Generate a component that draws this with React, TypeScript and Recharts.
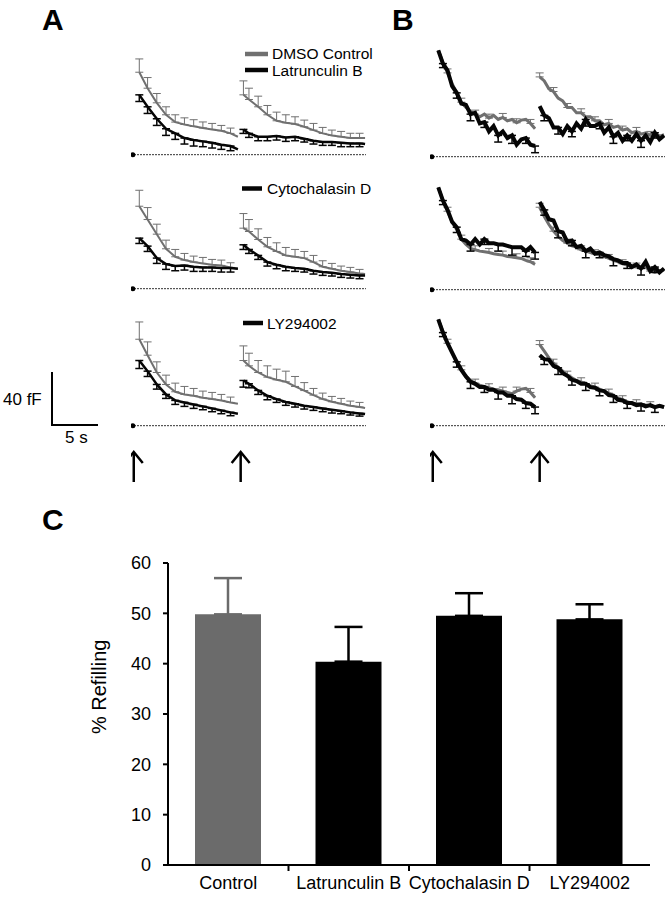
import React from 'react';
import {
  LineChart,
  Line,
  XAxis,
  YAxis,
  ErrorBar,
  ReferenceLine,
  ReferenceDot,
  BarChart,
  Bar,
} from 'recharts';

const FONT = '"Liberation Sans", Arial, Helvetica, sans-serif';
const GRAY = '#707070';
const INK = '#050505';

// ---------- panels A and B: capacitance traces (fF) ----------

// the two stimulus trains (s)
const STIM_TIMES = [0, 11.6];
const BASELINE_MARK_T = -0.1;

// panel A sample times; index 12 is the gap between the two trains
const TIME_A = [0.6, 1.5, 2.5, 3.5, 4.5, 5.5, 6.5, 7.5, 8.5, 9.5, 10.5, 11.3, 11.6, 11.9, 12.5, 13.5, 14.5, 15.5, 16.5, 17.5, 18.5, 19.5, 20.5, 21.5, 22.5, 23.5, 24.5, 25.1];

const A1_GRAY = [62, 50, 39, 30, 24.5, 22.7, 21.3, 20.1, 19, 18, 16, 13.5, null, 45, 41.5, 36, 30, 25.5, 24, 23, 21, 18.5, 16, 14.5, 13.5, 12.6, 12.6, 12.5];
const A1_GRAY_ERR = [10, 8, 7, 6, 5.5, 5, 5, 4.5, 4.5, 4, 4, null, null, 10.5, 8.5, 8, 7, 6.5, 6, 5.5, 5, 5, 4.5, 4, 4, 3.5, 3.5, null];
const A1_BLACK = [45, 36, 27, 19.5, 16, 12.5, 11, 10, 9, 7.5, 6.5, 4, null, 19, 16, 13.5, 13.5, 14, 13, 13.5, 12, 10.5, 9.5, 9.5, 9, 8.5, 8.5, 8];
const A1_BLACK_ERR = [5, 5, 5, 5, 4.5, 4.5, 4.5, 4, 4, 3.5, 3.5, null, null, 3, 3, 3, 3, 3, 3, 3, 2.5, 2.5, 2.5, 2.5, 3, 2.5, 2.5, null];

const A2_GRAY = [62, 52, 41, 30, 24, 21.5, 20, 19, 18, 17.5, 16, 15, null, 45.5, 43, 37, 31.5, 28, 25, 24, 23, 20, 16.5, 15, 13.5, 12.5, 11.5, 11];
const A2_GRAY_ERR = [12, 9, 7.5, 6.5, 5.5, 5, 4.5, 4.5, 4, 4, 3.5, null, null, 11, 9, 8, 7, 6.5, 6, 5.5, 5, 5, 4.5, 4, 3.5, 3.5, 3, null];
const A2_BLACK = [38, 32, 23, 18.5, 17, 17.5, 16.5, 16, 16, 15.5, 15.5, 15, null, 33, 29.5, 25, 20, 18, 16.5, 15.5, 15, 13.5, 12.5, 12, 11, 10.5, 10, 10];
const A2_BLACK_ERR = [4, 4, 4, 4, 3.5, 3.5, 3.5, 3, 3, 3, 3, null, null, 3.5, 3, 3, 3, 3, 3, 2.5, 2.5, 2.5, 2.5, 2.5, 2.5, 2.5, 2.5, null];

const A3_GRAY = [65, 53, 40, 31, 25.5, 23.5, 22.5, 21, 20, 19, 17.5, 16.5, null, 49, 45, 40, 36.5, 34.5, 33, 29.5, 26.4, 23, 20, 18, 16.5, 15, 14, 13.3];
const A3_GRAY_ERR = [13, 10, 8, 7, 6.5, 6, 5.5, 5, 5, 4.5, 4, null, null, 11, 9.5, 9, 8.5, 8, 8, 7.5, 6, 5, 4.5, 4, 4, 3.5, 3.5, null];
const A3_BLACK = [49, 41, 31, 23.5, 19, 17.5, 16, 14.5, 13, 11.5, 10, 9, null, 34, 31.5, 26.5, 22.5, 20, 17.8, 16.5, 15, 14, 13, 12, 11, 10, 9.2, 8.7];
const A3_BLACK_ERR = [6, 4, 3.5, 3, 3, 3, 3, 2.5, 2.5, 2.5, 2.5, null, null, 5, 3, 3, 3, 2.5, 2.5, 2.5, 2.5, 2.5, 2.5, 2.5, 2, 2, 2, null];

// panel B sample times; index 22 is the gap
const TIME_B = [0.6, 1.1, 1.6, 2.1, 2.6, 3.1, 3.6, 4.1, 4.6, 5.1, 5.6, 6.1, 6.6, 7.1, 7.6, 8.1, 8.6, 9.1, 9.6, 10.1, 10.6, 11.1, 11.35, 11.6, 12.1, 12.6, 13.1, 13.6, 14.1, 14.6, 15.1, 15.6, 16.1, 16.6, 17.1, 17.6, 18.1, 18.6, 19.1, 19.6, 20.1, 20.6, 21.1, 21.6, 22.1, 22.6, 23.1, 23.6, 24.1, 24.6, 25.1];

const B_GRAY_ERR = [null, null, 3, null, null, 3, null, null, 3, null, null, 3, null, null, 3, null, null, 3, null, null, 3, null, null, 3, null, null, 3, null, null, 3, null, null, 3, null, null, 3, null, null, 3, null, null, 3, null, null, 3, null, null, 3, null, null, null];
const B_BLACK_ERR = [null, 3, null, null, 4, null, null, 5, null, null, 4, null, null, 5, null, null, 6, null, null, 4, null, 5, null, null, 4, null, null, 5, null, null, 4, null, null, 5, null, null, 4, null, null, 5, null, null, 4, null, null, 5, null, null, 4, null, null];

const B1_GRAY = [80, 71, 63, 55, 48, 41, 37, 34, 32, 30, 32, 29, 31, 28, 29.5, 27, 28, 25.5, 27.5, 28, 25, 21, null, 60, 57, 51, 49, 44, 42, 37, 37, 33, 33, 30, 30, 27, 27, 24, 25, 22, 23, 20, 21, 18, 19, 17, 18, 16, 17.5, 15.5, 16.5];
const B1_BLACK = [80, 70, 65, 53, 48, 40, 39, 32, 33, 25, 26, 19, 23, 16, 19, 14, 16, 9, 13, 14, 9, 8, null, 38, 31, 29, 22, 22, 17, 23, 19, 25, 21, 28, 23, 23, 25, 18, 22, 15, 18, 12, 16, 12, 17, 12, 16, 11, 18, 13, 16];

const B2_GRAY = [77, 67, 59, 51, 45, 38, 34, 31, 30, 29, 28.5, 28, 27, 26.5, 26, 25, 24.5, 24, 23.5, 22, 21, 19, null, 62, 55, 49, 44, 40, 37, 35, 33, 32, 30, 29, 28, 27, 26, 25, 23.5, 22, 21, 19.5, 18.5, 17.5, 17, 16, 17, 14, 13, 14, 15];
const B2_BLACK = [77, 67, 60, 51, 47, 38, 37, 34, 38, 34, 38, 35, 35, 34, 34, 33, 32, 32, 32, 29, 32, 28, null, 66, 60, 53, 52, 44, 43, 36, 37, 32, 33, 29, 31, 27, 28, 26, 25, 23, 22, 20, 20, 17, 19, 16, 21, 14, 17, 13, 16];

const B3_GRAY = [80, 71, 62, 55, 48, 42, 37.5, 34, 32, 30.5, 29.5, 28.5, 27.5, 27, 26, 25, 24, 26, 27.5, 28, 25, 21, null, 61, 56, 51, 47, 44, 41, 38, 36, 34, 33, 31.5, 30, 29, 27.5, 26, 24.5, 22.5, 21, 19.5, 18, 17, 16.5, 16, 15.5, 15, 14, 15, 14];
const B3_BLACK = [80, 70, 62, 55, 48, 42, 37, 33, 31.5, 29, 29, 27, 27, 25, 25, 22.5, 22.5, 20, 19.5, 17, 16.5, 14, null, 53, 50, 49.5, 45, 43.5, 39.5, 37.5, 34.5, 33.5, 31.5, 31.5, 29, 28.5, 26.5, 26, 23, 22.5, 19.5, 19, 17, 17, 15.5, 16, 14.5, 15.5, 14, 15, 14];

// ---------- panel C: % refilling ----------
const CATEGORIES = ['Control', 'Latrunculin B', 'Cytochalasin D', 'LY294002'];
const REFILL_MEAN = [49.8, 40.4, 49.5, 48.8];
const REFILL_SEM = [7.2, 6.9, 4.5, 3.0];
const REFILL_TICKS = [0, 10, 20, 30, 40, 50, 60];

// layout
const T_DOMAIN: [number, number] = [-0.3, 25.2];
const Y_DOMAIN: [number, number] = [-4, 90];
const TRACE_W = 235;
const TRACE_H = 125;
const ARROW_H = 60;

const BAR_LEFT = 60;
const BAR_W = 612;
const BAR_MARGIN = { top: 13, right: 22, bottom: 0, left: 0 };
const BAR_YAXIS_W = 108;

function buildRows(time: number[], gray: any[], grayErr: any[], black: any[], blackErr: any[]) {
  return time.map((t, i) => ({
    t,
    gray: gray[i],
    black: black[i],
    grayErr: grayErr[i] == null ? null : [0, grayErr[i]],
    blackErr: blackErr[i] == null ? null : [blackErr[i], 0],
  }));
}

const refillRows = CATEGORIES.map((name, i) => ({
  name,
  ctrl: i === 0 ? REFILL_MEAN[i] : null,
  drug: i === 0 ? null : REFILL_MEAN[i],
  ctrlErr: i === 0 ? [0, REFILL_SEM[i]] : null,
  drugErr: i === 0 ? null : [0, REFILL_SEM[i]],
}));

function ArrowTick(props: any) {
  const { x, y } = props;
  const tip = y + 21;
  const tail = y + 51;
  return (
    <g stroke="#000" strokeWidth={2.5} fill="none">
      <line x1={x} y1={tip} x2={x} y2={tail} />
      <polyline points={`${x - 9},${tip + 11} ${x},${tip} ${x + 9},${tip + 11}`} />
    </g>
  );
}

interface TraceProps {
  left: number;
  top: number;
  rows: any[];
  arrows?: boolean;
  heavy?: boolean;
}

function TracePanel({ left, top, rows, arrows = false, heavy = false }: TraceProps) {
  return (
    <div style={{ position: 'absolute', left, top }}>
      <LineChart
        width={TRACE_W}
        height={arrows ? TRACE_H + ARROW_H : TRACE_H}
        data={rows}
        margin={{ top: 0, right: 0, bottom: 0, left: 0 }}
      >
        <XAxis
          type="number"
          dataKey="t"
          domain={T_DOMAIN}
          allowDataOverflow
          hide={!arrows}
          ticks={STIM_TIMES}
          interval={0}
          axisLine={false}
          tickLine={false}
          tickSize={0}
          tickMargin={0}
          height={ARROW_H}
          tick={<ArrowTick />}
        />
        <YAxis type="number" domain={Y_DOMAIN} allowDataOverflow hide />
        <ReferenceLine y={0} stroke="#333" strokeWidth={1} strokeDasharray="2 1" />
        <ReferenceDot x={BASELINE_MARK_T} y={0} r={2.5} fill="#000" stroke="none" />
        <Line
          dataKey="gray"
          type="linear"
          stroke={GRAY}
          strokeWidth={heavy ? 3 : 2}
          dot={false}
          activeDot={false}
          connectNulls={false}
          isAnimationActive={false}
        >
          <ErrorBar dataKey="grayErr" direction="y" width={4} stroke={GRAY} strokeWidth={1} />
        </Line>
        <Line
          dataKey="black"
          type="linear"
          stroke={INK}
          strokeWidth={heavy ? 4 : 2.5}
          dot={false}
          activeDot={false}
          connectNulls={false}
          isAnimationActive={false}
        >
          <ErrorBar dataKey="blackErr" direction="y" width={4} stroke={INK} strokeWidth={1.5} />
        </Line>
      </LineChart>
    </div>
  );
}

function CategoryTick(props: any) {
  const { x, y, payload, index } = props;
  const plotW = BAR_W - BAR_YAXIS_W - BAR_MARGIN.right;
  const half = plotW / CATEGORIES.length / 2;
  return (
    <g>
      <text x={x} y={y + 24} textAnchor="middle" fontSize={18} fontFamily={FONT} fill="#000">
        {payload.value}
      </text>
      {index < CATEGORIES.length - 1 && (
        <line x1={x + half} y1={y} x2={x + half} y2={y + 6} stroke="#000" strokeWidth={2} />
      )}
    </g>
  );
}

function RefillLabel(props: any) {
  const vb = props.viewBox || { x: 0, y: 0, width: 0, height: 0 };
  const cx = vb.x + 39;
  const cy = vb.y + vb.height * 0.41;
  return (
    <text
      x={cx}
      y={cy}
      transform={`rotate(-90 ${cx} ${cy})`}
      textAnchor="middle"
      dominantBaseline="central"
      fontSize={20}
      fontFamily={FONT}
      fill="#000"
    >
      % Refilling
    </text>
  );
}

export default function App() {
  const a1 = buildRows(TIME_A, A1_GRAY, A1_GRAY_ERR, A1_BLACK, A1_BLACK_ERR);
  const a2 = buildRows(TIME_A, A2_GRAY, A2_GRAY_ERR, A2_BLACK, A2_BLACK_ERR);
  const a3 = buildRows(TIME_A, A3_GRAY, A3_GRAY_ERR, A3_BLACK, A3_BLACK_ERR);
  const b1 = buildRows(TIME_B, B1_GRAY, B_GRAY_ERR, B1_BLACK, B_BLACK_ERR);
  const b2 = buildRows(TIME_B, B2_GRAY, B_GRAY_ERR, B2_BLACK, B_BLACK_ERR);
  const b3 = buildRows(TIME_B, B3_GRAY, B_GRAY_ERR, B3_BLACK, B_BLACK_ERR);

  return (
    <div
      style={{
        position: 'absolute',
        left: 0,
        top: 0,
        width: 672,
        height: 899,
        background: '#fff',
        fontFamily: FONT,
        overflow: 'hidden',
      }}
    >
      {/* panel letters, legends and scale bar */}
      <svg width={672} height={899} style={{ position: 'absolute', left: 0, top: 0 }}>
        <g fontFamily={FONT} fontWeight="bold" fontSize={30} fill="#000">
          <text x={42} y={30}>A</text>
          <text x={392} y={30}>B</text>
          <text x={42} y={530}>C</text>
        </g>
        <g fontFamily={FONT} fontSize={15.5} fill="#000">
          <line x1={245} x2={268} y1={54} y2={54} stroke={GRAY} strokeWidth={4.5} />
          <text x={272} y={59}>DMSO Control</text>
          <line x1={245} x2={268} y1={70} y2={70} stroke={INK} strokeWidth={4.5} />
          <text x={272} y={75.5}>Latrunculin B</text>
          <line x1={242} x2={262} y1={188.5} y2={188.5} stroke={INK} strokeWidth={4.5} />
          <text x={267} y={194}>Cytochalasin D</text>
          <line x1={243} x2={263} y1={323} y2={323} stroke={INK} strokeWidth={4.5} />
          <text x={267} y={328.5}>LY294002</text>
        </g>
        <g stroke="#000" strokeWidth={2} fill="none">
          <polyline points="52,372 52,425 98,425" />
        </g>
        <g fontFamily={FONT} fontSize={17} fill="#000">
          <text x={3} y={405}>40 fF</text>
          <text x={65} y={443}>5 s</text>
        </g>
      </svg>

      <TracePanel left={131} top={35} rows={a1} />
      <TracePanel left={131} top={169} rows={a2} />
      <TracePanel left={131} top={306} rows={a3} arrows />
      <TracePanel left={430} top={37} rows={b1} heavy />
      <TracePanel left={430} top={170} rows={b2} heavy />
      <TracePanel left={430} top={306} rows={b3} heavy arrows />

      <div style={{ position: 'absolute', left: BAR_LEFT, top: 550 }}>
        <BarChart width={BAR_W} height={349} data={refillRows} margin={BAR_MARGIN}>
          <XAxis
            dataKey="name"
            axisLine={{ stroke: '#000', strokeWidth: 2 }}
            tickLine={false}
            tickSize={0}
            tickMargin={0}
            height={34}
            interval={0}
            tick={<CategoryTick />}
          />
          <YAxis
            type="number"
            domain={[0, 60]}
            ticks={REFILL_TICKS}
            width={BAR_YAXIS_W}
            axisLine={{ stroke: '#000', strokeWidth: 2 }}
            tickLine={{ stroke: '#000', strokeWidth: 2 }}
            tickSize={5}
            tickMargin={12}
            tick={{ fontSize: 18, fill: '#000', fontFamily: FONT }}
            label={<RefillLabel />}
          />
          <Bar dataKey="ctrl" stackId="r" fill="#6b6b6b" barSize={66} isAnimationActive={false}>
            <ErrorBar dataKey="ctrlErr" direction="y" width={14} stroke="#6b6b6b" strokeWidth={2.5} />
          </Bar>
          <Bar dataKey="drug" stackId="r" fill="#000" barSize={66} isAnimationActive={false}>
            <ErrorBar dataKey="drugErr" direction="y" width={14} stroke="#000" strokeWidth={2.5} />
          </Bar>
        </BarChart>
      </div>
    </div>
  );
}
